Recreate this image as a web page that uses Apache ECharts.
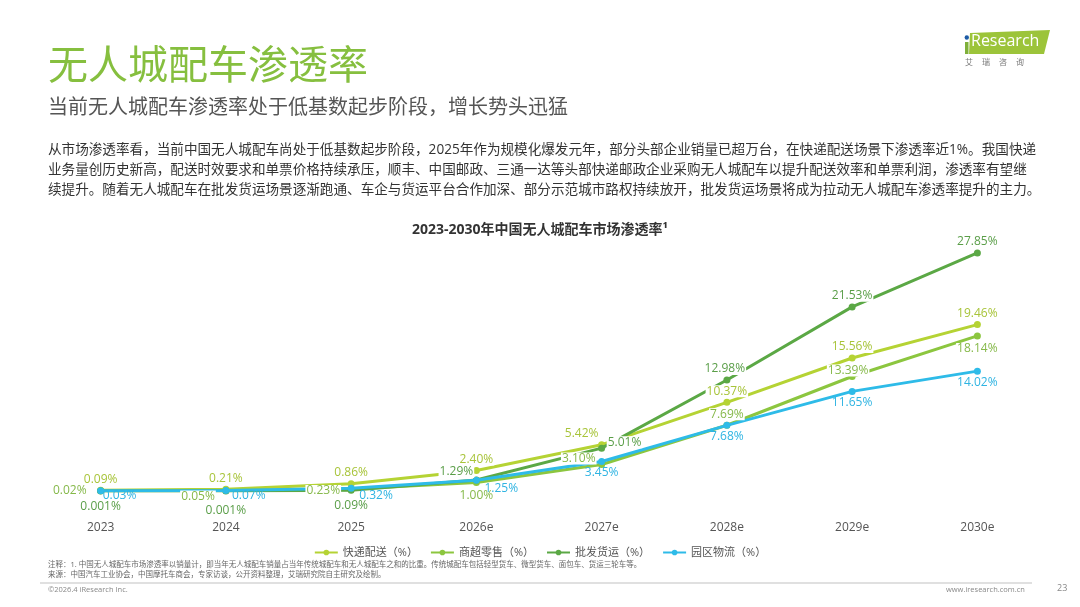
<!DOCTYPE html>
<html>
<head>
<meta charset="utf-8">
<script src="https://cdn.jsdelivr.net/npm/echarts@6/dist/echarts.min.js"></script>
<style>
html,body{margin:0;padding:0;background:#fff;}
#chart{width:1080px;height:607px;}
</style>
</head>
<body>
<div id="chart"></div>
<script>
// ---- data ----
var categories = ['2023', '2024', '2025', '2026e', '2027e', '2028e', '2029e', '2030e'];
var seriesNames = ['快递配送（%）', '商超零售（%）', '批发货运（%）', '园区物流（%）'];
var expressDelivery = [0.09, 0.21, 0.86, 2.40, 5.42, 10.37, 15.56, 19.46];
var supermarketRetail = [0.02, 0.05, 0.23, 1.00, 3.10, 7.69, 13.39, 18.14];
var wholesaleFreight = [0.001, 0.001, 0.09, 1.29, 5.01, 12.98, 21.53, 27.85];
var parkLogistics = [0.03, 0.07, 0.32, 1.25, 3.45, 7.68, 11.65, 14.02];
var labelText = [
  ['0.09%', '0.21%', '0.86%', '2.40%', '5.42%', '10.37%', '15.56%', '19.46%'],
  ['0.02%', '0.05%', '0.23%', '1.00%', '3.10%', '7.69%', '13.39%', '18.14%'],
  ['0.001%', '0.001%', '0.09%', '1.29%', '5.01%', '12.98%', '21.53%', '27.85%'],
  ['0.03%', '0.07%', '0.32%', '1.25%', '3.45%', '7.68%', '11.65%', '14.02%']
];

// ---- style ----
var colors = ['#b5d334', '#8cc63f', '#5ba845', '#2ebbe8'];
var labelColors = ['#a8c43a', '#86b94a', '#5a9e48', '#2fb4e2'];
var labelBg = ['#fff', '#fff', '#fff', 'transparent'];
var FONT = '"Open Sans", "Noto Sans CJK SC", sans-serif';
var labelLayouts = [
  [['top',[0,0]],['top',[0,0]],['top',[0,0]],['top',[0,0]],['top',[-20,0]],['top',[0,0]],['top',[0,0]],['top',[0,0]]],
  [['left',[-8,0]],['left',[-5,6]],['left',[-5,2]],['bottom',[0,2]],['left',[0,-6]],['top',[0,0]],['top',[-4,5]],['bottom',[0,2]]],
  [['bottom',[0,5]],['bottom',[0,9]],['bottom',[0,4]],['top',[-20,3]],['right',[0,-6]],['top',[-2,0]],['top',[0,0]],['top',[0,0]]],
  [['right',[-4,5]],['right',[0,5]],['right',[2,7]],['right',[2,8]],['bottom',[0,0]],['bottom',[0,0]],['bottom',[0,0]],['bottom',[0,0]]]
];
var allValues = [expressDelivery, supermarketRetail, wholesaleFreight, parkLogistics];

function buildLineSeries(idx) {
  return {
    name: seriesNames[idx],
    type: 'line',
    data: allValues[idx],
    symbol: 'circle',
    symbolSize: 7,
    lineStyle: { width: 3, color: colors[idx] },
    itemStyle: { color: colors[idx] },
    label: { show: false },
    z: 2 + idx
  };
}

function buildLabelSeries(idx) {
  var vals = allValues[idx];
  return {
    name: seriesNames[idx] + ' label',
    type: 'line',
    silent: true,
    data: vals.map(function (v, i) {
      return {
        value: v,
        label: {
          position: labelLayouts[idx][i][0],
          offset: labelLayouts[idx][i][1],
          formatter: labelText[idx][i]
        }
      };
    }),
    symbol: 'circle',
    symbolSize: 0.1,
    lineStyle: { width: 0, opacity: 0 },
    itemStyle: { color: colors[idx] },
    label: {
      show: true,
      color: labelColors[idx],
      fontSize: 12,
      fontFamily: FONT,
      backgroundColor: labelBg[idx],
      padding: [0, 1],
      distance: 5
    },
    z: 20 + idx
  };
}

var chart = echarts.init(document.getElementById('chart'));
chart.setOption({
  backgroundColor: '#fff',
  animation: false,
  color: colors,
  title: {
    text: '2023-2030年中国无人城配车市场渗透率¹',
    left: 'center',
    top: 218,
    textStyle: { fontSize: 14, fontWeight: 'bold', color: '#333', fontFamily: FONT }
  },
  legend: {
    data: seriesNames,
    top: 542,
    left: 'center',
    itemWidth: 23,
    itemHeight: 7,
    itemGap: 12,
    textStyle: { fontSize: 11, color: '#555', fontFamily: FONT }
  },
  grid: { left: 38, right: 40, top: 234.5, bottom: 116 },
  xAxis: {
    type: 'category',
    data: categories,
    boundaryGap: true,
    axisLine: { show: false },
    axisTick: { show: false },
    axisLabel: { margin: 31, fontSize: 12, color: '#555', fontFamily: FONT }
  },
  yAxis: {
    type: 'value',
    min: 0,
    max: 30,
    show: false,
    splitLine: { show: false }
  },
  series: [
    buildLineSeries(0), buildLineSeries(1), buildLineSeries(2), buildLineSeries(3),
    buildLabelSeries(0), buildLabelSeries(1), buildLabelSeries(2), buildLabelSeries(3)
  ],
  graphic: [
    { type: 'text', left: 48, top: 44, style: { text: '无人城配车渗透率', fontSize: 40, fill: '#86bf3f', fontFamily: '"Noto Sans CJK SC", sans-serif' } },
    { type: 'text', left: 48, top: 96, style: { text: '当前无人城配车渗透率处于低基数起步阶段，增长势头迅猛', fontSize: 20, fill: '#555', fontFamily: '"Noto Sans CJK SC", sans-serif' } },
    { type: 'text', left: 48, top: 143, style: { text: '从市场渗透率看，当前中国无人城配车尚处于低基数起步阶段，2025年作为规模化爆发元年，部分头部企业销量已超万台，在快递配送场景下渗透率近1%。我国快递', fontSize: 13.6, fill: '#333', fontFamily: FONT } },
    { type: 'text', left: 48, top: 163, style: { text: '业务量创历史新高，配送时效要求和单票价格持续承压，顺丰、中国邮政、三通一达等头部快递邮政企业采购无人城配车以提升配送效率和单票利润，渗透率有望继', fontSize: 13.6, fill: '#333', fontFamily: FONT } },
    { type: 'text', left: 48, top: 183, style: { text: '续提升。随着无人城配车在批发货运场景逐渐跑通、车企与货运平台合作加深、部分示范城市路权持续放开，批发货运场景将成为拉动无人城配车渗透率提升的主力。', fontSize: 13.6, fill: '#333', fontFamily: FONT } },
    { type: 'text', left: 48, top: 561, style: { text: '注释：1. 中国无人城配车市场渗透率以销量计，即当年无人城配车销量占当年传统城配车和无人城配车之和的比重。传统城配车包括轻型货车、微型货车、面包车、货运三轮车等。', fontSize: 7.5, fill: '#666', fontFamily: FONT } },
    { type: 'text', left: 48, top: 571, style: { text: '来源：中国汽车工业协会，中国摩托车商会，专家访谈，公开资料整理，艾瑞研究院自主研究及绘制。', fontSize: 7.5, fill: '#666', fontFamily: FONT } },
    { type: 'line', shape: { x1: 40, y1: 583, x2: 1032, y2: 583 }, style: { stroke: '#e0e0e0', lineWidth: 2 } },
    { type: 'text', left: 48, top: 586, style: { text: '©2026.4 iResearch Inc.', fontSize: 7.5, fill: '#888', fontFamily: FONT } },
    { type: 'text', left: 946, top: 586, style: { text: 'www.iresearch.com.cn', fontSize: 7.5, fill: '#888', fontFamily: FONT } },
    { type: 'text', left: 1057, top: 584, style: { text: '23', fontSize: 9, fill: '#888', fontFamily: FONT } },
    // logo
    { type: 'polygon', shape: { points: [[970, 33], [1050, 30], [1044, 54], [969, 54]] }, style: { fill: '#9cc43a' } },
    { type: 'rect', shape: { x: 965, y: 42, width: 3.5, height: 12 }, style: { fill: '#7fb03a' } },
    { type: 'circle', shape: { cx: 966.8, cy: 37.5, r: 2.2 }, style: { fill: '#1c5aa6' } },
    { type: 'text', left: 971, top: 33, style: { text: 'Research', fontSize: 16, fill: '#fff', fontFamily: '"Open Sans", sans-serif' } },
    { type: 'text', left: 965, top: 58, style: { text: '艾     瑞     咨     询', fontSize: 8, fill: '#777', fontFamily: '"Noto Sans CJK SC", sans-serif' } }
  ]
});
</script>
</body>
</html>
